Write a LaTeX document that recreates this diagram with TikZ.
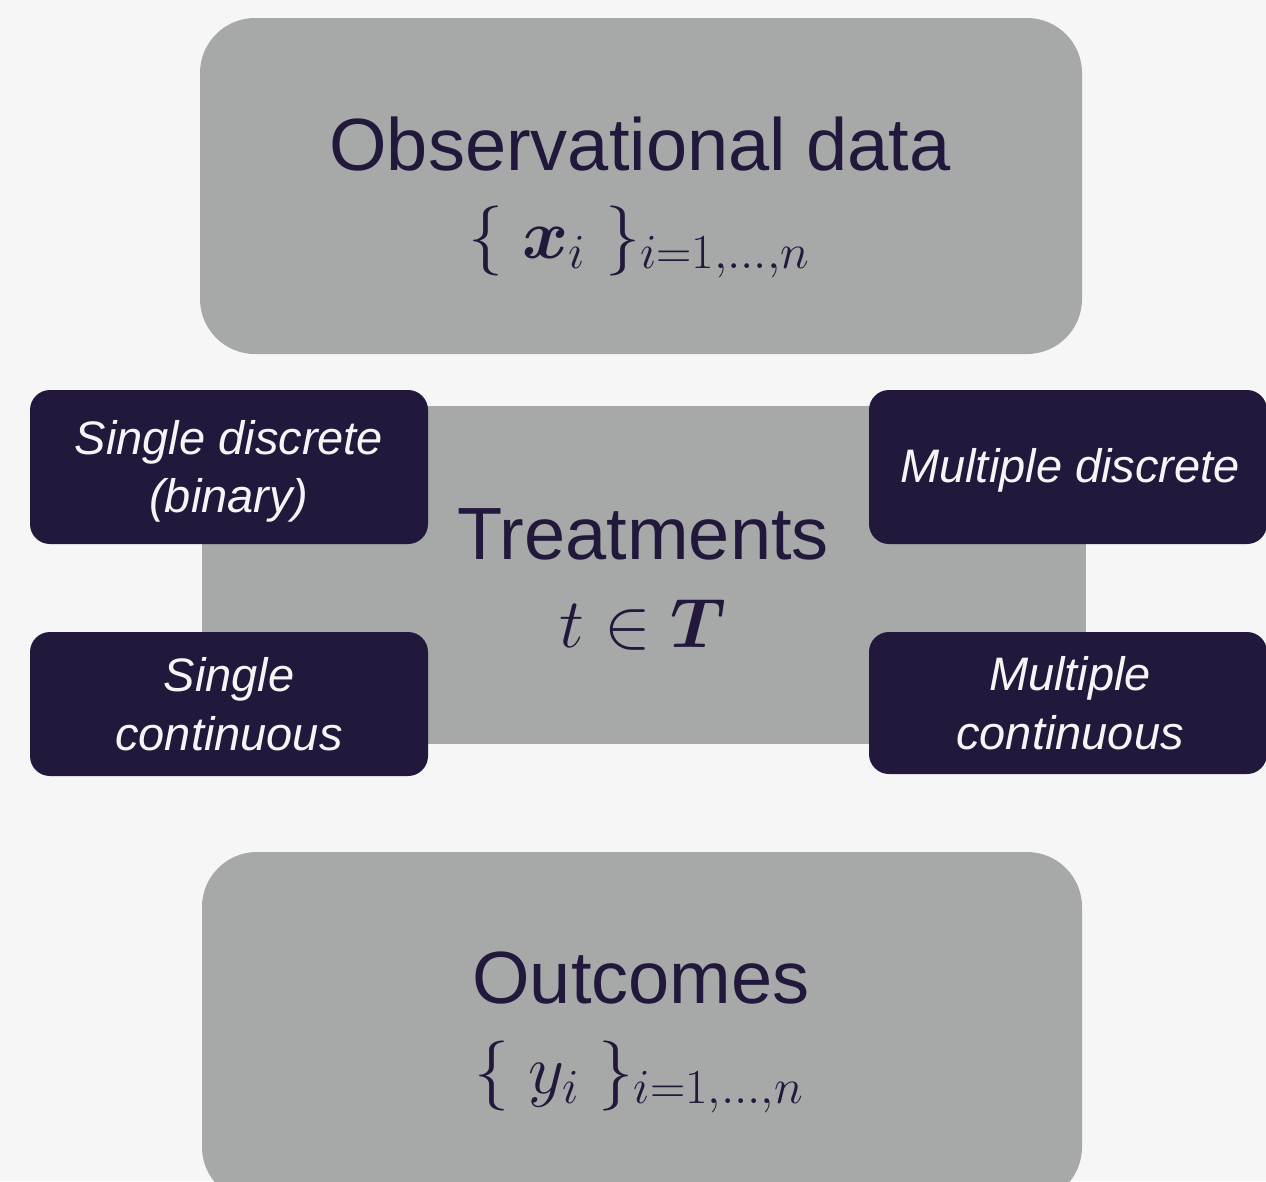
\RequirePackage{fix-cm}
\documentclass[tikz,border=0pt]{standalone}
\usepackage{amsmath,bm}
\usepackage{fontspec}
\setsansfont{Liberation Sans}
\definecolor{bgcol}{HTML}{F6F6F6}
\definecolor{panelcol}{HTML}{A6A9A8}
\definecolor{inkcol}{HTML}{21183B}
\definecolor{lighttext}{HTML}{F5F5F5}

\tikzset{
  panel/.style={fill=panelcol, draw=none, inner sep=0pt},
  choicebox/.style={fill=inkcol, draw=none, rounded corners=20pt,
    minimum width=398pt, inner sep=0pt, align=center, text=lighttext,
    font=\sffamily\itshape\fontsize{47}{59}\selectfont},
  heading/.style={anchor=base, text=inkcol, inner sep=0pt,
    font=\sffamily\fontsize{74}{88}\selectfont},
  formula/.style={anchor=base, text=inkcol, inner sep=0pt,
    font=\fontsize{70}{82}\selectfont}
}
% lower a label inside its box without changing the box's extent
\newcommand{\dropby}[2]{\raisebox{-#1}[\height][\depth]{#2}}

\begin{document}
\begin{tikzpicture}[x=1pt, y=-1pt]
\useasboundingbox (0,0) rectangle (1266,1181);
\fill[bgcol] (0,0) rectangle (1266,1181);
\begin{scope}
\clip (0,0) rectangle (1266,1181);

% three grey panels
\node[panel, rounded corners=55pt, minimum width=882pt, minimum height=336pt] (obs) at (641,186) {};
\node[panel, minimum width=884pt, minimum height=338pt] (treat) at (644,575) {};
\node[panel, rounded corners=55pt, minimum width=880pt, minimum height=350pt] (outc) at (642,1027) {};

% panel captions
\node[heading] (obstitle) at (640,170) {Observational data};
\node[formula] (obsmath) at (639,258) {$\{\;\bm{x}_i\;\}_{i=1,\dots,n}$};

\node[heading] (treattitle) at (643,559) {Treatments};
\node[formula] (treatmath) at (643,647) {$t\in\bm{T}$};

\node[heading] (outctitle) at (641,1003) {Outcomes};
\node[formula] (outcmath) at (639,1093) {$\{\;y_i\;\}_{i=1,\dots,n}$};

% treatment kinds
\node[choicebox, minimum height=154pt] (singdisc) at (229,467)
  {\dropby{5pt}{\begin{tabular}{@{}c@{}}Single discrete\\[-1pt](binary)\end{tabular}}};
\node[choicebox, minimum height=144pt] (singcont) at (229,704) {Single\\continuous};
\node[choicebox, minimum height=154pt] (multdisc) at (1068,467) {\dropby{3pt}{\hspace{4pt}Multiple discrete}};
\node[choicebox, minimum height=142pt] (multcont) at (1068,703) {\hspace{4pt}Multiple\\\hspace{4pt}continuous};
\end{scope}
\end{tikzpicture}
\end{document}
